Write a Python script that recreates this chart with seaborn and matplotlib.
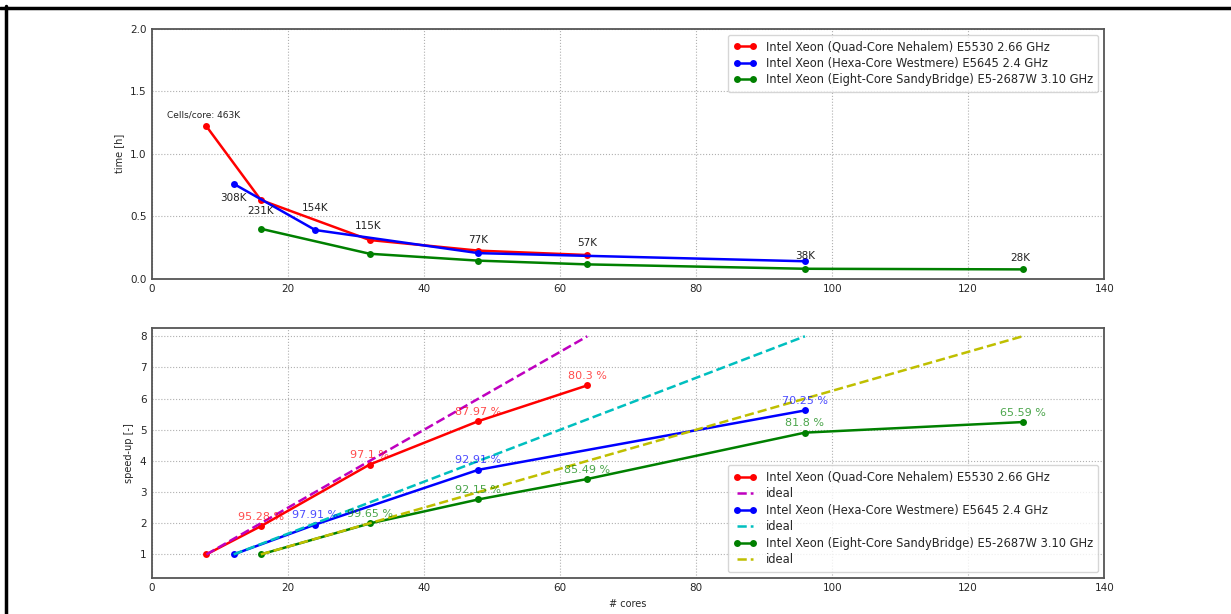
import numpy as np
import matplotlib
matplotlib.use("Agg")
import matplotlib.pyplot as plt
from matplotlib.lines import Line2D
import pandas as pd
import seaborn as sns

# --- data ---
names = ["Intel Xeon (Quad-Core Nehalem) E5530 2.66 GHz",
         "Intel Xeon (Hexa-Core Westmere) E5645 2.4 GHz",
         "Intel Xeon (Eight-Core SandyBridge) E5-2687W 3.10 GHz"]
colors = ["r", "b", "g"]
ideal_colors = ["m", "c", "y"]

cores_nehalem = [8, 16, 32, 48, 64]
cores_westmere = [12, 24, 48, 96]
cores_sandy = [16, 32, 48, 64, 96, 128]

time_nehalem = [1.22, 0.63, 0.31, 0.225, 0.19]
time_westmere = [0.76, 0.39, 0.205, 0.14]
time_sandy = [0.40, 0.20, 0.145, 0.115, 0.08, 0.075]

speed_nehalem = [1.0, 1.906, 3.884, 5.278, 6.424]
speed_westmere = [1.0, 1.958, 3.716, 5.62]
speed_sandy = [1.0, 1.993, 2.765, 3.42, 4.908, 5.247]

ideal_nehalem = [1, 2, 4, 6, 8]
ideal_westmere = [1, 2, 4, 8]
ideal_sandy = [1, 2, 3, 4, 6, 8]

eff_nehalem = ["", "95.28 %", "97.1 %", "87.97 %", "80.3 %"]
eff_westmere = ["", "97.91 %", "92.91 %", "70.25 %"]
eff_sandy = ["", "99.65 %", "92.15 %", "85.49 %", "81.8 %", "65.59 %"]

# cells per core labels: (text, x, y)
cell_labels = ["308K", "231K", "154K", "115K", "77K", "57K", "38K", "28K"]
cell_x = [12.0, 16.0, 24.0, 31.8, 48.0, 64.0, 96.0, 127.6]
cell_y = [0.65, 0.54, 0.57, 0.42, 0.31, 0.29, 0.18, 0.17]

cores = [cores_nehalem, cores_westmere, cores_sandy]
times = [time_nehalem, time_westmere, time_sandy]
speeds = [speed_nehalem, speed_westmere, speed_sandy]
ideals = [ideal_nehalem, ideal_westmere, ideal_sandy]
effs = [eff_nehalem, eff_westmere, eff_sandy]

sns.set_style("whitegrid", {"grid.linestyle": ":", "grid.color": "#b0b0b0",
                            "axes.edgecolor": "#555555"})
plt.rcParams["font.family"] = ["DejaVu Sans"]

fig = plt.figure(figsize=(12.31, 6.14), dpi=100)
ax1 = fig.add_axes([0.1235, 0.546, 0.7735, 0.407])
ax2 = fig.add_axes([0.1235, 0.059, 0.7735, 0.406])

# --- top: run time ---
for i in range(3):
    df = pd.DataFrame({"cores": cores[i], "time": times[i]})
    sns.lineplot(data=df, x="cores", y="time", color=colors[i], marker="o",
                 markersize=5, markeredgewidth=0, lw=1.8, label=names[i], ax=ax1)

ax1.text(2.2, 1.31, "Cells/core: 463K", fontsize=6.5, va="center", color="#222222")
for t, x, y in zip(cell_labels, cell_x, cell_y):
    ax1.text(x, y, t, fontsize=7.5, ha="center", va="center", color="#222222")

ax1.set_xlim(0, 140)
ax1.set_ylim(0, 2.0)
ax1.set_yticks([0.0, 0.5, 1.0, 1.5, 2.0])
ax1.set_xlabel("")
ax1.set_ylabel("time [h]", fontsize=7)
ax1.legend(loc="upper right", fontsize=8.3, frameon=True, handlelength=2,
           numpoints=2, borderpad=0.5, labelspacing=0.3, edgecolor="#cccccc")

# --- bottom: speed-up ---
for i in range(3):
    df = pd.DataFrame({"cores": cores[i], "speed": speeds[i], "ideal": ideals[i]})
    sns.lineplot(data=df, x="cores", y="speed", color=colors[i], marker="o",
                 markersize=5, markeredgewidth=0, lw=1.8, label=names[i], ax=ax2)
    sns.lineplot(data=df, x="cores", y="ideal", color=ideal_colors[i],
                 linestyle="--", lw=1.8, label="ideal", ax=ax2)
    for x, y, t in zip(cores[i], speeds[i], effs[i]):
        if t:
            ax2.text(x, y + 0.3, t, fontsize=8, ha="center", va="center",
                     color=colors[i], alpha=0.7)

ax2.set_xlim(0, 140)
ax2.set_ylim(0.25, 8.25)
ax2.set_yticks(range(1, 9))
ax2.set_xlabel("# cores", fontsize=7)
ax2.set_ylabel("speed-up [-]", fontsize=7)
ax2.legend(loc="lower right", fontsize=8.3, frameon=True, handlelength=2,
           numpoints=2, borderpad=0.5, labelspacing=0.3, edgecolor="#cccccc")

for ax in (ax1, ax2):
    ax.tick_params(labelsize=7.5, length=3, direction="in", pad=4)
    for s in ax.spines.values():
        s.set_linewidth(1.3)

# black frame lines on top and left edges
fig.add_artist(Line2D([0, 1], [0.9875, 0.9875], color="black", lw=2.5,
                      transform=fig.transFigure))
fig.add_artist(Line2D([0.0048, 0.0048], [0, 0.99], color="black", lw=2.5,
                      transform=fig.transFigure))

fig.savefig("out.png", dpi=100)
